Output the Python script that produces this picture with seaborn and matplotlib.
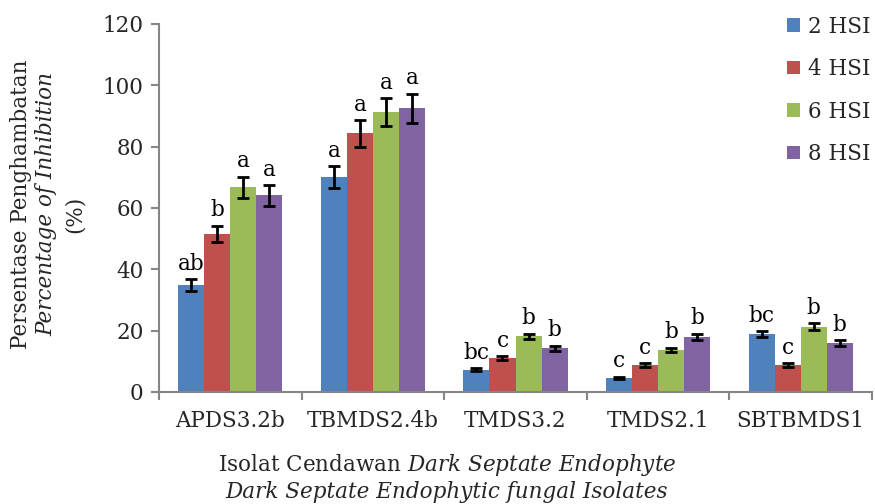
import pandas as pd
import matplotlib
matplotlib.use("Agg")
import matplotlib.pyplot as plt
import seaborn as sns

# Data inhibisi per isolat dan waktu pengamatan
isolat = ["APDS3.2b", "TBMDS2.4b", "TMDS3.2", "TMDS2.1", "SBTBMDS1"]
hsi = ["2 HSI", "4 HSI", "6 HSI", "8 HSI"]
nilai = {
    "2 HSI": [34.9, 70.0, 7.2, 4.6, 18.8],
    "4 HSI": [51.5, 84.3, 11.0, 8.8, 8.7],
    "6 HSI": [66.8, 91.2, 18.1, 13.7, 21.3],
    "8 HSI": [64.1, 92.5, 14.2, 18.0, 15.9],
}
galat = {
    "2 HSI": [1.9, 3.6, 0.5, 0.4, 1.0],
    "4 HSI": [2.6, 4.3, 0.6, 0.5, 0.6],
    "6 HSI": [3.4, 4.6, 0.9, 0.8, 1.1],
    "8 HSI": [3.3, 4.8, 0.8, 1.0, 0.9],
}
notasi = {
    "2 HSI": ["ab", "a", "bc", "c", "bc"],
    "4 HSI": ["b", "a", "c", "c", "c"],
    "6 HSI": ["a", "a", "b", "b", "b"],
    "8 HSI": ["a", "a", "b", "b", "b"],
}
warna = ["#4F81BD", "#C0504D", "#9BBB59", "#8064A2"]

rows = []
for h in hsi:
    for i, iso in enumerate(isolat):
        rows.append({"Isolat": iso, "HSI": h, "Nilai": nilai[h][i]})
df = pd.DataFrame(rows)

sns.set_style("white")
plt.rcParams["font.family"] = ["DejaVu Serif"]
plt.rcParams["mathtext.fontset"] = "custom"
plt.rcParams["mathtext.rm"] = "DejaVu Serif"
plt.rcParams["mathtext.it"] = "DejaVu Serif:italic"

fs = 15.5

fig = plt.figure(figsize=(8.75, 5.04), dpi=100)
ax = fig.add_axes([159 / 875, 112 / 504, 713 / 875, 368 / 504])

sns.barplot(data=df, x="Isolat", y="Nilai", hue="HSI", order=isolat, hue_order=hsi,
            palette=warna, saturation=1, errorbar=None, width=0.73, gap=0,
            linewidth=0, ax=ax)

# error bar dan huruf notasi
for h, cont in zip(hsi, ax.containers):
    for i, bar in enumerate(cont):
        xc = bar.get_x() + bar.get_width() / 2
        v = nilai[h][i]
        e = galat[h][i]
        ax.errorbar(xc, v, yerr=e, fmt="none", ecolor="black", elinewidth=2,
                    capsize=4.5, capthick=2, zorder=5)
        ax.text(xc, v + e + 1.5, notasi[h][i], ha="center", va="bottom",
                fontsize=fs, color="black")

ax.set_ylim(0, 120)
ax.set_xlim(-0.5, 4.5)
ax.set_yticks(range(0, 121, 20))
ax.set_xlabel("")
ax.set_ylabel("")
sns.despine(ax=ax)
for s in ["left", "bottom"]:
    ax.spines[s].set_color("#868686")
    ax.spines[s].set_linewidth(1.5)
ax.tick_params(axis="y", length=6, width=1.5, color="#868686", labelsize=fs, pad=5, direction="out", left=True)
ax.tick_params(axis="x", which="major", length=0, labelsize=fs, pad=13)
ax.set_xticks([-0.5, 0.5, 1.5, 2.5, 3.5, 4.5], minor=True)
ax.tick_params(axis="x", which="minor", length=6, width=1.5, color="#868686", direction="out", bottom=True)

leg = ax.legend(loc="upper right", bbox_to_anchor=(1.025, 1.075), frameon=False, fontsize=fs,
                handlelength=0.6, handleheight=0.6, handletextpad=0.35, labelspacing=0.95)

# label sumbu Y (tiga baris)
yc = (504 - 204) / 504
fig.text(21 / 875, yc, "Persentase Penghambatan", rotation=90, ha="center", va="center", fontsize=fs)
fig.text(46 / 875, yc, "Percentage of Inhibition", rotation=90, ha="center", va="center",
         fontsize=fs, fontstyle="italic")
fig.text(75 / 875, (504 - 214) / 504, "(%)", rotation=90, ha="center", va="center", fontsize=fs)

# label sumbu X (dua baris)
fig.text(447 / 875, (504 - 465) / 504, r"Isolat Cendawan $\mathit{Dark\ Septate\ Endophyte}$",
         ha="center", va="center", fontsize=fs)
fig.text(447 / 875, (504 - 492) / 504, "Dark Septate Endophytic fungal Isolates",
         ha="center", va="center", fontsize=fs, fontstyle="italic")

fig.savefig("out.png", dpi=100)
